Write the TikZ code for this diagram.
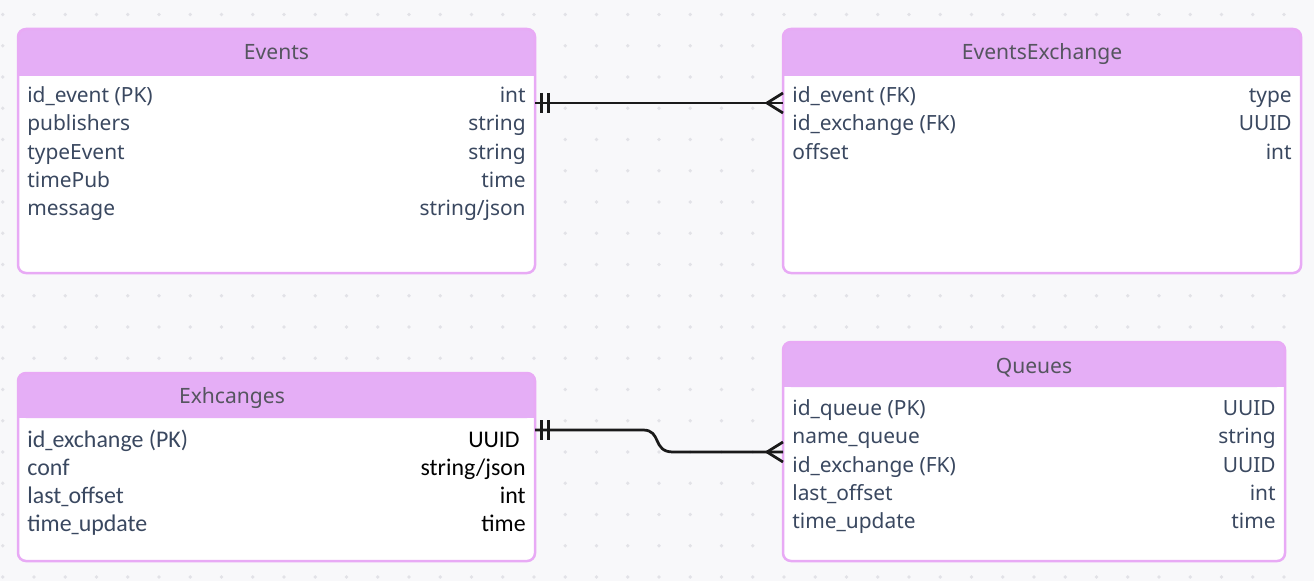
\documentclass[tikz,border=0pt]{standalone}
\usepackage{graphicx}
\usepackage{fontspec}
\setmainfont{Noto Sans}
\newfontfamily\carlitofont{Carlito}
\usetikzlibrary{calc}

\definecolor{bgcol}{RGB}{248,248,250}
\definecolor{dotcol}{RGB}{226,226,231}
\definecolor{headcol}{RGB}{229,174,246}
\definecolor{bordercol}{RGB}{232,170,245}
\definecolor{textcol}{RGB}{58,72,96}
\definecolor{headtext}{RGB}{85,85,95}
\definecolor{linecol}{RGB}{26,26,26}

% narrow underscore for the Exhcanges rows
\newcommand{\shortus}{\scalebox{0.6}[1]{\_}}

\tikzset{
    rowtext/.style={anchor=base west, inner sep=0pt, text=textcol, font=\fontsize{11.9}{14}\selectfont},
    typetext/.style={anchor=base east, inner sep=0pt, text=textcol, font=\fontsize{11.9}{14}\selectfont},
    exrow/.style={anchor=base west, inner sep=0pt, text=textcol, font=\carlitofont\fontsize{13.6}{14}\selectfont},
    blacktype/.style={anchor=base east, inner sep=0pt, text=black, font=\carlitofont\fontsize{13.6}{14}\selectfont},
    headtitle/.style={anchor=base, inner sep=0pt, text=headtext, font=\fontsize{12}{14}\selectfont},
    boxborder/.style={draw=bordercol, line width=0.05cm, rounded corners=4.5pt},
    relline/.style={draw=linecol, line width=0.055cm},
}

\begin{document}
\begin{tikzpicture}[x=0.02cm, y=-0.02cm]
    % Background with dot grid
    \fill[bgcol] (0,0) rectangle (1314,581);
    \useasboundingbox (0,0) rectangle (1314,581);
    \foreach \i in {0,...,41}
        \foreach \j in {0,...,18}
            \fill[dotcol] (2.7+31.25*\i, 14.5+31.25*\j) circle (1.1pt);

    % Draw Events table
    \fill[white, rounded corners=4.5pt] (18,29) rectangle (535,273);
    \fill[headcol, rounded corners=4.5pt] (18,29) rectangle (535,76);
    \fill[headcol] (18,60) rectangle (535,76);
    \draw[boxborder] (18,29) rectangle (535,273);
    \node[headtitle] (ev-title) at (276.5,60) {Events};
    \node[rowtext] (ev1) at (27,103) {id\_event (PK)};
    \node[rowtext] (ev2) at (27,131) {publishers};
    \node[rowtext] (ev3) at (27,159) {typeEvent};
    \node[rowtext] (ev4) at (27,187) {timePub};
    \node[rowtext] (ev5) at (27,215) {message};
    \node[typetext] (evt1) at (526,103) {int};
    \node[typetext] (evt2) at (526,131) {string};
    \node[typetext] (evt3) at (526,159) {string};
    \node[typetext] (evt4) at (526,187) {time};
    \node[typetext] (evt5) at (526,215) {string/json};

    % Draw EventsExchange table
    \fill[white, rounded corners=4.5pt] (783,29) rectangle (1301,273);
    \fill[headcol, rounded corners=4.5pt] (783,29) rectangle (1301,76);
    \fill[headcol] (783,60) rectangle (1301,76);
    \draw[boxborder] (783,29) rectangle (1301,273);
    \node[headtitle] (ee-title) at (1042,60) {EventsExchange};
    \node[rowtext] (ee1) at (792,103) {id\_event (FK)};
    \node[rowtext] (ee2) at (792,131) {id\_exchange (FK)};
    \node[rowtext] (ee3) at (792,159) {offset};
    \node[typetext] (eet1) at (1292,103) {type};
    \node[typetext] (eet2) at (1292,131) {UUID};
    \node[typetext] (eet3) at (1292,159) {int};

    % Draw Exhcanges table
    \fill[white, rounded corners=4.5pt] (18,373) rectangle (535,561);
    \fill[headcol, rounded corners=4.5pt] (18,373) rectangle (535,418);
    \fill[headcol] (18,400) rectangle (535,418);
    \draw[boxborder] (18,373) rectangle (535,561);
    \node[headtitle] (ex-title) at (232,403) {Exhcanges};
    \node[exrow] (ex1) at (27,447) {id\shortus exchange (PK)};
    \node[exrow] (ex2) at (27,475) {conf};
    \node[exrow] (ex3) at (27,503) {last\shortus offset};
    \node[exrow] (ex4) at (27,531) {time\shortus update};
    \node[blacktype] (ext1) at (520,447) {UUID};
    \node[blacktype] (ext2) at (526,475) {string/json};
    \node[blacktype] (ext3) at (526,503) {int};
    \node[blacktype] (ext4) at (526,531) {time};

    % Draw Queues table
    \fill[white, rounded corners=4.5pt] (783,342) rectangle (1285,561);
    \fill[headcol, rounded corners=4.5pt] (783,342) rectangle (1285,387);
    \fill[headcol] (783,370) rectangle (1285,387);
    \draw[boxborder] (783,342) rectangle (1285,561);
    \node[headtitle] (qu-title) at (1034,373) {Queues};
    \node[rowtext] (qu1) at (792,415) {id\_queue (PK)};
    \node[rowtext] (qu2) at (792,443) {name\_queue};
    \node[rowtext] (qu3) at (792,472) {id\_exchange (FK)};
    \node[rowtext] (qu4) at (792,500) {last\_offset};
    \node[rowtext] (qu5) at (792,528) {time\_update};
    \node[typetext] (qut1) at (1276,415) {UUID};
    \node[typetext] (qut2) at (1276,443) {string};
    \node[typetext] (qut3) at (1276,472) {UUID};
    \node[typetext] (qut4) at (1276,500) {int};
    \node[typetext] (qut5) at (1276,528) {time};

    % Connector ends on the table borders
    \coordinate (ev-out) at (535,103);
    \coordinate (ee-in) at (783,103);
    \coordinate (ex-out) at (535,430);
    \coordinate (qu-in) at (783,452);

    % Events (one) to EventsExchange (many)
    \draw[relline] (ev-out) -- (ee-in);
    \draw[relline] ($(ev-out)+(6.5,-10)$) -- ($(ev-out)+(6.5,10)$);
    \draw[relline] ($(ev-out)+(13.5,-10)$) -- ($(ev-out)+(13.5,10)$);
    \draw[relline] ($(ee-in)+(0,-10)$) -- ($(ee-in)+(-16,0)$) -- ($(ee-in)+(0,10)$);

    % Exhcanges (one) to Queues (many)
    \draw[relline] (ex-out) -- (643,430) .. controls (662,430) and (652,452) .. (673,452) -- (qu-in);
    \draw[relline] ($(ex-out)+(6.5,-10)$) -- ($(ex-out)+(6.5,10)$);
    \draw[relline] ($(ex-out)+(13.5,-10)$) -- ($(ex-out)+(13.5,10)$);
    \draw[relline] ($(qu-in)+(0,-10)$) -- ($(qu-in)+(-16,0)$) -- ($(qu-in)+(0,10)$);
\end{tikzpicture}
\end{document}
